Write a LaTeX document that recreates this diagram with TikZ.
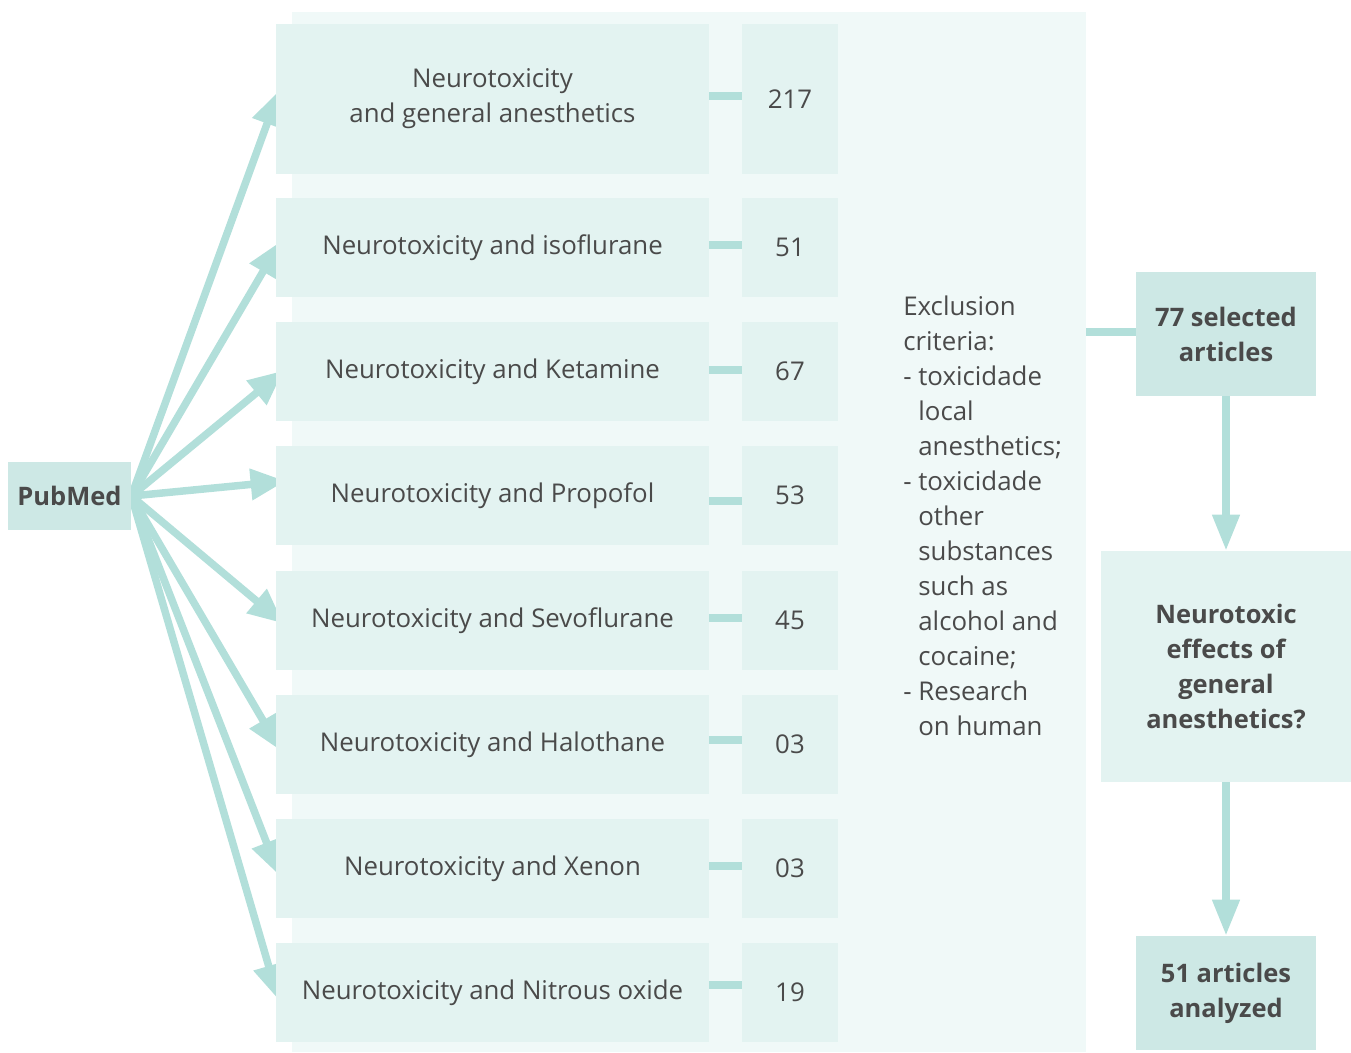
\documentclass[tikz,border=0pt]{standalone}
\usepackage{fontspec}
\setmainfont{Open Sans}
\usetikzlibrary{arrows.meta, positioning, backgrounds}
\definecolor{panelbg}{HTML}{F0F9F8}
\definecolor{boxbg}{HTML}{E3F3F1}
\definecolor{darkbox}{HTML}{CDE8E5}
\definecolor{linkcol}{HTML}{B2DFDA}
\definecolor{textcol}{HTML}{4A4A4A}
\tikzset{
  boxtext/.style={text=textcol, font=\fontsize{14.7}{19.9}\selectfont, align=center, inner sep=0pt}
}
\tikzset{
  searchbox/.style={boxtext, fill=boxbg, minimum width=8.66cm},
  countbox/.style={boxtext, fill=boxbg, minimum width=1.92cm},
  resultbox/.style={boxtext, fill=darkbox, font=\fontsize{14.5}{19.9}\selectfont\bfseries}
}
\tikzset{
  link/.style={draw=linkcol, line width=0.15cm},
  fanarrow/.style={link, -{Triangle[length=0.7cm,width=0.6cm]}, shorten >=-0.2cm},
  downarrow/.style={link, -{Triangle[length=0.72cm,width=0.52cm]}}
}

\begin{document}
\begin{tikzpicture}[x=0.02cm, y=-0.02cm]
  \useasboundingbox (0,0) rectangle (1351,1052);
  % search terms and counts
  \foreach \i/\cy/\bh/\txt/\cnt in {
      1/99/3.0/{Neurotoxicity\\and general anesthetics}/217,
      2/247.5/1.98/{Neurotoxicity and isoflurane}/51,
      3/371.5/1.98/{Neurotoxicity and Ketamine}/67,
      4/495.5/1.98/{Neurotoxicity and Propofol}/53,
      5/620.5/1.98/{Neurotoxicity and Sevoflurane}/45,
      6/744.5/1.98/{Neurotoxicity and Halothane}/03,
      7/868.5/1.98/{Neurotoxicity and Xenon}/03,
      8/992.5/1.98/{Neurotoxicity and Nitrous oxide}/19} {
    \node[searchbox, minimum height=\bh cm] (s\i) at (492.5,\cy) {\txt};
    \node[countbox, minimum height=\bh cm] (n\i) at (790,\cy) {\cnt};
  }
  \node[resultbox, minimum width=2.46cm, minimum height=1.36cm] (pub) at (69.5,496) {PubMed};
  % exclusion criteria
  \node[boxtext, align=left, anchor=north west] (excl) at (903,296) {%
    Exclusion\\criteria:\\
    -\ toxicidade\\\phantom{-\ }local\\\phantom{-\ }anesthetics;\\
    -\ toxicidade\\\phantom{-\ }other\\\phantom{-\ }substances\\\phantom{-\ }such as\\
    \phantom{-\ }alcohol and\\\phantom{-\ }cocaine;\\
    -\ Research\\\phantom{-\ }on human};
  % outcome column
  \node[resultbox, minimum width=3.6cm, minimum height=2.48cm] (sel) at (1226,334) {77 selected\\articles};
  \node[boxtext, fill=boxbg, font=\fontsize{14.5}{19.9}\selectfont\bfseries,
        minimum width=5cm, minimum height=4.62cm] (quest) at (1226,666.5)
        {Neurotoxic\\effects of\\general\\anesthetics?};
  \node[resultbox, minimum width=3.6cm, minimum height=2.28cm] (ana) at (1226,993) {51 articles\\analyzed};
  \begin{scope}[on background layer]
    \fill[panelbg] (292,12) rectangle (1086,1052);
    \coordinate (panelr) at (1086,332);
    % fan out from PubMed
    \foreach \i/\ty in {1/100, 2/250, 3/377, 4/482, 5/617, 6/742, 7/866, 8/990} {
      \draw[fanarrow] (pub.east) -- (s\i.west |- 0,\ty);
    }
    % terms to counts
    \foreach \i/\ly in {1/96, 2/245, 3/370, 4/501, 5/618, 6/740, 7/866, 8/985} {
      \draw[link] (s\i.east |- 0,\ly) -- (n\i.west |- 0,\ly);
    }
  \end{scope}
  \draw[link] (panelr) -- (sel.west |- panelr);
  \draw[downarrow] (sel.south) -- (quest.north);
  \draw[downarrow] (quest.south) -- (ana.north);
\end{tikzpicture}
\end{document}
